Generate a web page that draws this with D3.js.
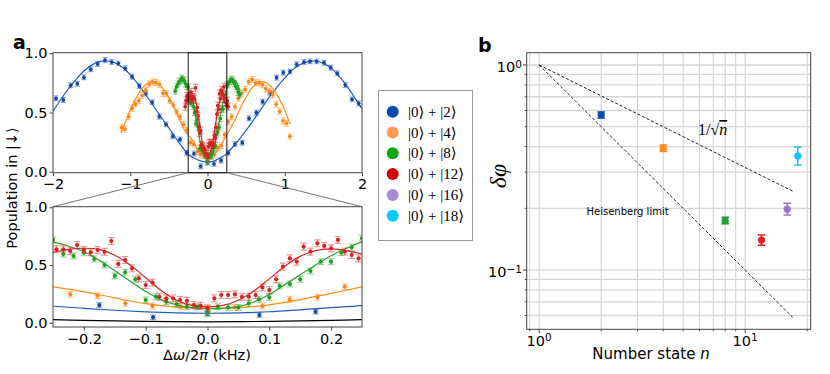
<!DOCTYPE html>
<html><head><meta charset="utf-8">
<script src="https://cdn.jsdelivr.net/npm/d3@7"></script>
<style>body{margin:0;background:#fff} svg{display:block}</style>
</head><body>
<svg id="c" width="830" height="374" font-family="DejaVu Sans, sans-serif"></svg>
<script>
// ---------- DATA : panel a ----------
const seriesLabels = ["|0⟩ + |2⟩","|0⟩ + |4⟩","|0⟩ + |8⟩","|0⟩ + |12⟩","|0⟩ + |16⟩","|0⟩ + |18⟩"];
const legendColors = ["#0a4aa8","#ff9a55","#12a812","#d40000","#a88ad8","#00ccff"];

const blueData = [[-1.961,0.62],[-1.866,0.606],[-1.771,0.73],[-1.685,0.743],[-1.599,0.797],[-1.512,0.865],[-1.421,0.91],[-1.327,0.943],[-1.24,0.926],[-1.155,0.915],[-1.064,0.873],[-0.977,0.802],[-0.883,0.724],[-0.797,0.66],[-0.715,0.586],[-0.624,0.465],[-0.537,0.40],[-0.45,0.30],[-0.356,0.273],[-0.27,0.16],[-0.175,0.153],[-0.088,0.047],[0,0.081],[0.084,0.067],[0.175,0.095],[0.27,0.16],[0.356,0.234],[0.45,0.245],[0.537,0.451],[0.632,0.498],[0.714,0.591],[0.809,0.667],[0.895,0.794],[0.981,0.836],[1.068,0.845],[1.154,0.907],[1.249,0.926],[1.327,0.932],[1.413,0.932],[1.508,0.921],[1.595,0.878],[1.68,0.831],[1.784,0.732],[1.87,0.611],[1.957,0.578]];
const orangeData = [[-1.111,0.375],[-1.067,0.36],[-1.022,0.465],[-0.978,0.535],[-0.933,0.572],[-0.889,0.60],[-0.844,0.645],[-0.80,0.69],[-0.756,0.74],[-0.711,0.758],[-0.667,0.752],[-0.622,0.738],[-0.578,0.662],[-0.533,0.66],[-0.489,0.60],[-0.444,0.563],[-0.40,0.507],[-0.356,0.465],[-0.311,0.40],[-0.267,0.352],[-0.222,0.246],[-0.178,0.234],[-0.133,0.168],[-0.089,0.145],[-0.044,0.139],[0,0.128],[0.044,0.133],[0.089,0.145],[0.133,0.203],[0.178,0.22],[0.222,0.312],[0.267,0.422],[0.311,0.465],[0.356,0.549],[0.40,0.62],[0.444,0.662],[0.489,0.696],[0.533,0.76],[0.578,0.78],[0.622,0.75],[0.667,0.75],[0.711,0.735],[0.756,0.70],[0.80,0.68],[0.844,0.65],[0.889,0.57],[0.933,0.51],[0.978,0.43],[1.022,0.41],[1.067,0.30]];
const greenData = [[-0.417,0.68],[-0.40,0.72],[-0.383,0.74],[-0.367,0.76],[-0.35,0.77],[-0.333,0.79],[-0.317,0.78],[-0.30,0.77],[-0.283,0.74],[-0.267,0.72],[-0.25,0.717],[-0.2333,0.595],[-0.2167,0.578],[-0.20,0.607],[-0.1833,0.552],[-0.1667,0.50],[-0.15,0.405],[-0.1333,0.437],[-0.1167,0.376],[-0.10,0.197],[-0.0833,0.225],[-0.0667,0.182],[-0.05,0.162],[-0.0333,0.139],[-0.0167,0.139],[0,0.081],[0.0167,0.139],[0.0333,0.133],[0.05,0.133],[0.0667,0.168],[0.0833,0.203],[0.10,0.22],[0.1167,0.318],[0.1333,0.335],[0.15,0.376],[0.1667,0.448],[0.1833,0.529],[0.20,0.529],[0.2167,0.607],[0.2333,0.653],[0.25,0.731],[0.267,0.74],[0.283,0.76],[0.30,0.775],[0.317,0.78],[0.333,0.765],[0.35,0.745],[0.367,0.72],[0.383,0.70],[0.40,0.67],[0.417,0.65]];
const redData = [[-0.289,0.55],[-0.278,0.60],[-0.267,0.64],[-0.256,0.62],[-0.2444,0.636],[-0.2333,0.636],[-0.2222,0.621],[-0.2111,0.673],[-0.20,0.63],[-0.1889,0.61],[-0.1778,0.63],[-0.1667,0.615],[-0.1556,0.708],[-0.1444,0.509],[-0.1333,0.543],[-0.1222,0.471],[-0.1111,0.384],[-0.10,0.327],[-0.0889,0.347],[-0.0778,0.225],[-0.0667,0.211],[-0.0556,0.211],[-0.0444,0.197],[-0.0333,0.19],[-0.0222,0.153],[-0.0111,0.147],[0,0.124],[0.0111,0.211],[0.0222,0.24],[0.0333,0.24],[0.0444,0.246],[0.0556,0.225],[0.0667,0.225],[0.0778,0.24],[0.0889,0.306],[0.10,0.283],[0.1111,0.376],[0.1222,0.486],[0.1333,0.558],[0.1444,0.529],[0.1556,0.659],[0.1667,0.616],[0.1778,0.688],[0.1889,0.665],[0.20,0.645],[0.2111,0.717],[0.2222,0.616],[0.2333,0.587],[0.2444,0.558],[0.256,0.60],[0.267,0.55]];

const blueFit = [[-2,0.51],[-1.9,0.61],[-1.8,0.70],[-1.7,0.78],[-1.6,0.85],[-1.5,0.90],[-1.4,0.93],[-1.3,0.935],[-1.2,0.92],[-1.1,0.88],[-1.0,0.82],[-0.9,0.74],[-0.8,0.65],[-0.7,0.555],[-0.6,0.46],[-0.5,0.37],[-0.4,0.275],[-0.3,0.185],[-0.25,0.145],[-0.2,0.125],[-0.15,0.108],[-0.1,0.094],[-0.05,0.085],[0,0.082],[0.05,0.085],[0.1,0.095],[0.15,0.112],[0.2,0.13],[0.25,0.151],[0.3,0.19],[0.4,0.265],[0.5,0.35],[0.6,0.44],[0.7,0.535],[0.8,0.63],[0.9,0.715],[1.0,0.79],[1.1,0.86],[1.2,0.905],[1.3,0.93],[1.4,0.935],[1.5,0.915],[1.6,0.875],[1.7,0.81],[1.8,0.73],[1.9,0.63],[2.0,0.53]];
const orangeFit = [[-1.12,0.33],[-1.05,0.44],[-1.0,0.52],[-0.95,0.59],[-0.9,0.65],[-0.85,0.70],[-0.8,0.735],[-0.75,0.755],[-0.7,0.76],[-0.65,0.75],[-0.6,0.72],[-0.55,0.68],[-0.5,0.625],[-0.45,0.565],[-0.4,0.495],[-0.35,0.42],[-0.3,0.355],[-0.25,0.31],[-0.2,0.27],[-0.15,0.215],[-0.1,0.165],[-0.05,0.135],[0,0.125],[0.05,0.13],[0.1,0.155],[0.15,0.2],[0.2,0.255],[0.25,0.31],[0.3,0.37],[0.35,0.43],[0.4,0.50],[0.45,0.57],[0.5,0.63],[0.55,0.685],[0.6,0.725],[0.65,0.75],[0.7,0.76],[0.75,0.755],[0.8,0.735],[0.85,0.70],[0.9,0.65],[0.95,0.59],[1.0,0.52],[1.07,0.40]];
const greenFit = [[-0.42,0.68],[-0.4,0.72],[-0.375,0.755],[-0.35,0.775],[-0.325,0.78],[-0.3,0.77],[-0.275,0.74],[-0.25,0.70],[-0.225,0.665],[-0.2,0.615],[-0.175,0.54],[-0.15,0.45],[-0.125,0.36],[-0.1,0.27],[-0.075,0.2],[-0.05,0.155],[-0.025,0.13],[0,0.122],[0.025,0.125],[0.05,0.14],[0.075,0.18],[0.1,0.245],[0.125,0.33],[0.15,0.415],[0.175,0.5],[0.2,0.58],[0.225,0.645],[0.25,0.70],[0.275,0.74],[0.3,0.77],[0.325,0.78],[0.35,0.775],[0.375,0.755],[0.4,0.72],[0.42,0.68]];
const redFit = [[-0.29,0.55],[-0.275,0.585],[-0.25,0.61],[-0.225,0.635],[-0.2,0.645],[-0.175,0.635],[-0.15,0.585],[-0.125,0.5],[-0.1,0.39],[-0.075,0.28],[-0.05,0.195],[-0.025,0.15],[0,0.138],[0.025,0.15],[0.05,0.195],[0.075,0.275],[0.1,0.38],[0.125,0.49],[0.15,0.575],[0.175,0.625],[0.2,0.64],[0.225,0.625],[0.25,0.595],[0.27,0.56]];
const blackFit = [[-0.25,0.027],[-0.2,0.021],[-0.15,0.016],[-0.1,0.012],[-0.05,0.009],[0,0.008],[0.05,0.009],[0.1,0.012],[0.15,0.016],[0.2,0.021],[0.25,0.027]];

const topXTicks = [-2,-1,0,1,2];
const botXTicks = [-0.2,-0.1,0.0,0.1,0.2];
const yTicksA = [0.0,0.5,1.0];

// ---------- DATA : panel b ----------
const nValues = [2,4,8,12,16,18];
const dphi = [0.570,0.392,0.174,0.140,0.198,0.360];
const dphiLo = [0.551,0.378,0.168,0.132,0.1855,0.325];
const dphiHi = [0.590,0.407,0.181,0.148,0.2114,0.397];
const pointColorsB = ["#0a4aa8","#ff8a1a","#20a030","#e02424","#9a76cc","#12c4f4"];
const heisN = [1,17], heisY = [1.0, 0.0588];
const sqrtN = [1,17], sqrtY = [1.0, 0.2425];
const gridX = [0.9,1,2,3,4,5,6,7,8,9,10,20];
const gridY = [0.06,0.07,0.08,0.09,0.1,0.2,0.3,0.4,0.5,0.6,0.7,0.8,0.9,1.0];

// ---------- DRAW ----------
const SERIF = "Liberation Serif, DejaVu Serif, serif";
const svg = d3.select("#c");
const defs = svg.append("defs");

const xTop = d3.scaleLinear().domain([-2,2]).range([53,362]);
const yTop = d3.scaleLinear().domain([-0.008,1.005]).range([172.7,52.7]);
const xBot = d3.scaleLinear().domain([-0.25,0.25]).range([53,362]);
const yBot = d3.scaleLinear().domain([-0.037,1.005]).range([327,206.7]);
const xR = d3.scaleLog().domain([0.87,20.8]).range([526.7,810.7]);
const yR = d3.scaleLog().domain([0.0514,1.148]).range([329.3,52.7]);

function clip(id, x, y){
  defs.append("clipPath").attr("id",id).append("rect")
    .attr("x",x.range()[0]).attr("y",y.range()[1])
    .attr("width",x.range()[1]-x.range()[0]).attr("height",y.range()[0]-y.range()[1]);
}
clip("clipTop",xTop,yTop); clip("clipBot",xBot,yBot); clip("clipR",xR,yR);

const frameColor = "#444";
function frame(x,y){
  svg.append("rect").attr("x",x.range()[0]).attr("y",y.range()[1])
    .attr("width",x.range()[1]-x.range()[0]).attr("height",y.range()[0]-y.range()[1])
    .attr("fill","none").attr("stroke",frameColor).attr("stroke-width",1);
}

function linAxes(x,y,xt,fmtX){
  const gx = svg.append("g").attr("transform",`translate(0,${y.range()[0]})`)
    .call(d3.axisBottom(x).tickValues(xt).tickSize(3.5).tickPadding(3).tickFormat(fmtX));
  const gy = svg.append("g").attr("transform",`translate(${x.range()[0]},0)`)
    .call(d3.axisLeft(y).tickValues(yTicksA).tickSize(3.5).tickPadding(2).tickFormat(d3.format(".1f")));
  [gx,gy].forEach(g=>{
    g.attr("font-family",null).attr("font-size",null);
    g.select(".domain").remove();
    g.selectAll("line").attr("stroke",frameColor);
    g.selectAll("text").attr("font-size","14.5px").attr("fill","#000");
  });
}

function drawPoints(g,x,y,data,color,err,r,cap){
  const e = g.append("g").attr("stroke",color).attr("stroke-opacity",0.45).attr("stroke-width",1.2);
  data.forEach(d=>{
    const px=x(d[0]), y0=y(d[1]-err), y1=y(d[1]+err);
    e.append("line").attr("x1",px).attr("x2",px).attr("y1",y0).attr("y2",y1);
    e.append("line").attr("x1",px-cap).attr("x2",px+cap).attr("y1",y0).attr("y2",y0);
    e.append("line").attr("x1",px-cap).attr("x2",px+cap).attr("y1",y1).attr("y2",y1);
  });
  g.append("g").selectAll("circle").data(data).join("circle")
    .attr("cx",d=>x(d[0])).attr("cy",d=>y(d[1])).attr("r",r).attr("fill",color);
}
function drawFit(g,x,y,data,color){
  g.append("path").datum(data).attr("fill","none").attr("stroke",color).attr("stroke-width",1.2)
    .attr("d",d3.line().x(d=>x(d[0])).y(d=>y(d[1])).curve(d3.curveCatmullRom.alpha(0.5)));
}

const ptColors = ["#1048a8","#ff8514","#22a022","#d82222"];
const fitColors = ["#1f5ec4","#ff8c1a","#2ca02c","#d62728"];
const errs = [0.02,0.025,0.025,0.03];
const allData = [blueData,orangeData,greenData,redData];
const allFits = [blueFit,orangeFit,greenFit,redFit];

// --- top panel ---
const gTop = svg.append("g").attr("clip-path","url(#clipTop)");
allData.forEach((d,i)=>{ drawFit(gTop,xTop,yTop,allFits[i],fitColors[i]); drawPoints(gTop,xTop,yTop,d,ptColors[i],errs[i],1.9,2.6); });
linAxes(xTop,yTop,topXTicks,d3.format("d"));
frame(xTop,yTop);
svg.append("rect").attr("x",xTop(-0.25)).attr("y",yTop.range()[1]).attr("width",xTop(0.25)-xTop(-0.25))
  .attr("height",yTop.range()[0]-yTop.range()[1]).attr("fill","none").attr("stroke","#111").attr("stroke-width",1);
svg.append("line").attr("x1",xTop(-0.25)).attr("y1",yTop.range()[0]).attr("x2",xBot.range()[0]).attr("y2",yBot.range()[1]).attr("stroke","#777");
svg.append("line").attr("x1",xTop(0.25)).attr("y1",yTop.range()[0]).attr("x2",xBot.range()[1]).attr("y2",yBot.range()[1]).attr("stroke","#777");

// --- bottom panel ---
const gBot = svg.append("g").attr("clip-path","url(#clipBot)");
drawFit(gBot,xBot,yBot,blackFit,"#000");
allData.forEach((d,i)=>{ drawFit(gBot,xBot,yBot,allFits[i],fitColors[i]);
  drawPoints(gBot,xBot,yBot,d.filter(p=>Math.abs(p[0])<=0.252),ptColors[i],errs[i],2.1,3.2); });
linAxes(xBot,yBot,botXTicks,d3.format(".1f"));
frame(xBot,yBot);

// labels panel a
svg.append("text").attr("x",13).attr("y",48.5).attr("font-size","19px").attr("font-weight","bold").text("a");
svg.append("text").attr("transform","translate(17,188) rotate(-90)").attr("text-anchor","middle").attr("font-size","14.5px").text("Population in |↓⟩");
const xl = svg.append("text").attr("x",207).attr("y",359.5).attr("text-anchor","middle").attr("font-size","14.5px");
xl.append("tspan").text("Δ"); xl.append("tspan").attr("font-style","italic").text("ω");
xl.append("tspan").text("/2"); xl.append("tspan").attr("font-style","italic").text("π");
xl.append("tspan").text(" (kHz)");

// legend
svg.append("rect").attr("x",378.5).attr("y",90.5).attr("width",94).attr("height",150).attr("fill","#fff").attr("stroke","#999");
seriesLabels.forEach((s,i)=>{
  const cy = 111.7 + i*20.8;
  svg.append("circle").attr("cx",392.7).attr("cy",cy).attr("r",6).attr("fill",legendColors[i]);
  svg.append("text").attr("x",408).attr("y",cy+5).attr("font-family",SERIF).attr("font-size","15px").text(s);
});

// --- panel b ---
const gR = svg.append("g").attr("clip-path","url(#clipR)");
gridX.forEach(v=>gR.append("line").attr("x1",xR(v)).attr("x2",xR(v)).attr("y1",yR.range()[0]).attr("y2",yR.range()[1]).attr("stroke","#cfcfcf"));
gridY.forEach(v=>gR.append("line").attr("y1",yR(v)).attr("y2",yR(v)).attr("x1",xR.range()[0]).attr("x2",xR.range()[1]).attr("stroke","#d6d6d6").attr("stroke-width",1.3));
const lineR = d3.line().x(d=>xR(d[0])).y(d=>yR(d[1]));
gR.append("path").datum(heisN.map((n,i)=>[n,heisY[i]])).attr("d",lineR).attr("fill","none").attr("stroke","#222").attr("stroke-width",1).attr("stroke-dasharray","3,2");
gR.append("path").datum(sqrtN.map((n,i)=>[n,sqrtY[i]])).attr("d",lineR).attr("fill","none").attr("stroke","#222").attr("stroke-width",1).attr("stroke-dasharray","3,2");
nValues.forEach((n,i)=>{
  const px = xR(n), c = pointColorsB[i];
  const g = gR.append("g").attr("stroke",c).attr("stroke-width",1.5);
  g.append("line").attr("x1",px).attr("x2",px).attr("y1",yR(dphiLo[i])).attr("y2",yR(dphiHi[i]));
  [dphiLo[i],dphiHi[i]].forEach(v=>g.append("line").attr("x1",px-3.8).attr("x2",px+3.8).attr("y1",yR(v)).attr("y2",yR(v)));
  gR.append("circle").attr("cx",px).attr("cy",yR(dphi[i])).attr("r",3.6).attr("fill",c);
});
frame(xR,yR);
const majX=[1,10], minX=[0.9,2,3,4,5,6,7,8,9,20];
const majY=[0.1,1], minY=[0.06,0.07,0.08,0.09,0.2,0.3,0.4,0.5,0.6,0.7,0.8,0.9];
majX.forEach(v=>svg.append("line").attr("x1",xR(v)).attr("x2",xR(v)).attr("y1",329.3).attr("y2",333).attr("stroke",frameColor));
minX.forEach(v=>svg.append("line").attr("x1",xR(v)).attr("x2",xR(v)).attr("y1",329.3).attr("y2",331.3).attr("stroke",frameColor));
majY.forEach(v=>svg.append("line").attr("y1",yR(v)).attr("y2",yR(v)).attr("x1",526.7).attr("x2",523).attr("stroke",frameColor));
minY.forEach(v=>svg.append("line").attr("y1",yR(v)).attr("y2",yR(v)).attr("x1",526.7).attr("x2",524.7).attr("stroke",frameColor));
function pow10(t,e){ t.append("tspan").text("10"); t.append("tspan").attr("dy","-0.45em").attr("font-size","10.5px").text(e); }
majX.forEach(v=>{ const t=svg.append("text").attr("x",xR(v)).attr("y",346).attr("text-anchor","middle").attr("font-size","14.5px"); pow10(t, v===1?"0":"1"); });
majY.forEach(v=>{ const t=svg.append("text").attr("x",522).attr("y",yR(v)+7.3).attr("text-anchor","end").attr("font-size","14.5px"); pow10(t, v===1?"0":"−1"); });

svg.append("text").attr("x",478).attr("y",52).attr("font-size","19px").attr("font-weight","bold").text("b");
svg.append("text").attr("transform","translate(506,176) rotate(-90)").attr("text-anchor","middle")
  .attr("font-family",SERIF).attr("font-style","italic").attr("font-size","24px").text("δφ");
const nl = svg.append("text").attr("x",651).attr("y",359).attr("text-anchor","middle").attr("font-size","15px");
nl.append("tspan").text("Number state "); nl.append("tspan").attr("font-style","italic").text("n");
svg.append("text").attr("x",586.5).attr("y",215).attr("font-size","10px").text("Heisenberg limit");
const sl = svg.append("text").attr("x",698).attr("y",135).attr("font-family",SERIF).attr("font-size","16px");
sl.append("tspan").text("1/√"); sl.append("tspan").attr("font-style","italic").attr("text-decoration","overline").text("n");
</script>
</body></html>
